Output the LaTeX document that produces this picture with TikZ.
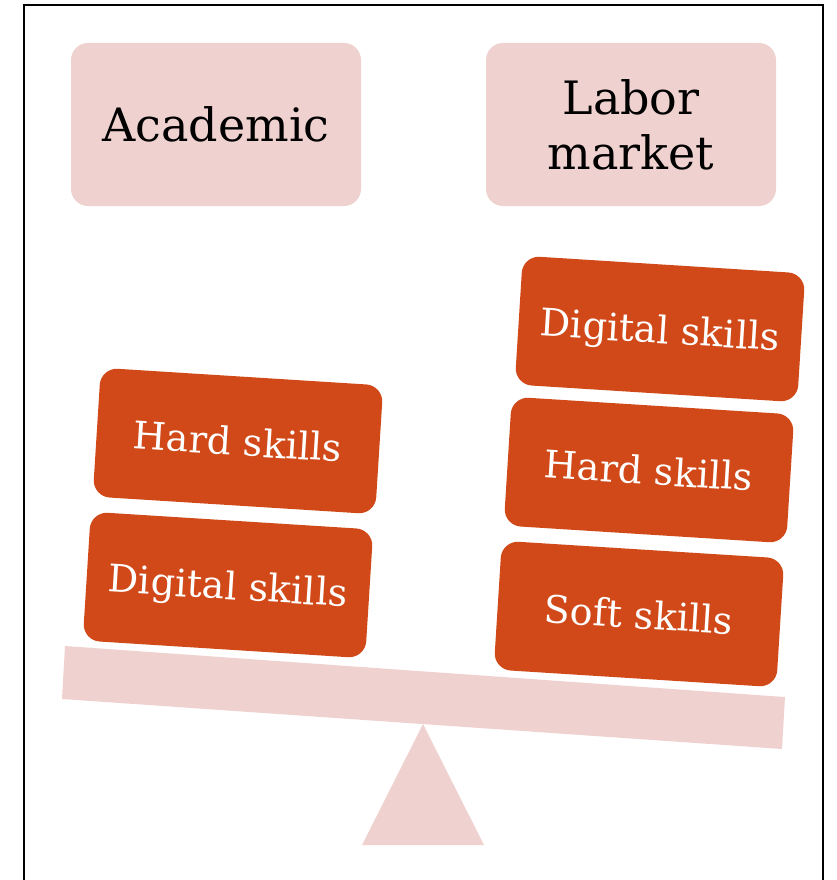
\documentclass[tikz,border=0pt]{standalone}
\usepackage{fontspec}
\setmainfont{DejaVu Serif}
\definecolor{beampink}{HTML}{EFD2D0}
\definecolor{brick}{HTML}{D14918}
\tikzset{
  side/.style={fill=beampink, rounded corners=17pt, minimum width=290pt, minimum height=163pt, inner sep=0pt, align=center, font=\fontsize{46}{55}\selectfont},
  skill/.style={fill=brick, text=white, rounded corners=17pt, minimum width=283pt, minimum height=129pt, inner sep=0pt, text depth=0pt, rotate=-3.6, font=\fontsize{38}{46}\selectfont}
}

\begin{document}
\begin{tikzpicture}[x=1pt,y=-1pt]

\useasboundingbox (0,0) rectangle (836,880);
\draw[line width=1.6pt] (24,880) -- (24,5) -- (823,5) -- (823,880);

\node[side] (acad) at (216,124.5) {Academic};
\node[side] (labor) at (631,124.5) {Labor\\market};

\node[skill] (lhard) at (238,441) {Hard skills};
\node[skill] (ldig) at (228,585) {Digital skills};

\node[skill] (rdig) at (660,329) {Digital skills};
\node[skill] (rhard) at (649,470) {Hard skills};
\node[skill] (rsoft) at (639,614) {Soft skills};

% seesaw
\fill[beampink] (65,646) -- (785,697) -- (782,749) -- (62,699) -- cycle;
\fill[beampink] (423,724) -- (484,845) -- (362,845) -- cycle;

\end{tikzpicture}
\end{document}
